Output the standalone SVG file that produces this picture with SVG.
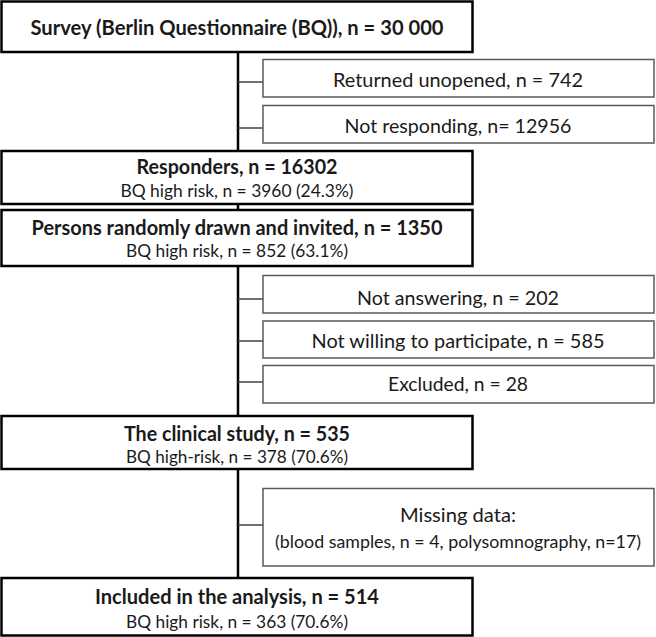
<svg xmlns="http://www.w3.org/2000/svg" width="656" height="637" viewBox="0 0 656 637">
<style>
.main{fill:#fff;stroke:#000;stroke-width:2.5}
.side{fill:#fff;stroke:#5a5a5a;stroke-width:1.5}
.vline{stroke:#000;stroke-width:2.5;fill:none}
.hline{stroke:#444;stroke-width:1.5;fill:none}
text{font-family:Lato,"Liberation Sans",sans-serif;fill:#1a1a1a;text-anchor:middle;dominant-baseline:central}
.b{font-weight:bold;font-size:20.5px}
.r{font-size:17.5px}
.s{font-size:20px}
.r2{font-size:17px}
</style>
<rect width="656" height="637" fill="#fff"/>
<g id="connectors">
<path class="vline" d="M238 52V151M238 204V210M238 266V416M238 469V578"/>
<path class="hline" d="M238 82H263M238 128H263M238 299H263M238 341H263M238 382H263M238 525H263"/>
</g>
<g id="survey">
<rect class="main" x="1.5" y="1.5" width="471" height="50.5"/>
<text class="b" x="237" y="27" textLength="413" lengthAdjust="spacingAndGlyphs">Survey (Berlin Questionnaire (BQ)), n = 30 000</text>
</g>
<g id="returned">
<rect class="side" x="263" y="59.5" width="391" height="37.5"/>
<text class="s" x="458" y="79" textLength="250" lengthAdjust="spacingAndGlyphs">Returned unopened, n = 742</text>
</g>
<g id="notresponding">
<rect class="side" x="263" y="105.5" width="391" height="37.5"/>
<text class="s" x="458" y="125" textLength="227" lengthAdjust="spacingAndGlyphs">Not responding, n= 12956</text>
</g>
<g id="responders">
<rect class="main" x="1.5" y="151" width="471" height="53"/>
<text class="b" x="237" y="166" textLength="201" lengthAdjust="spacingAndGlyphs">Responders, n = 16302</text>
<text class="r" x="237" y="190" textLength="233" lengthAdjust="spacingAndGlyphs">BQ high risk, n = 3960 (24.3%)</text>
</g>
<g id="persons">
<rect class="main" x="1.5" y="210" width="471" height="56"/>
<text class="b" x="237" y="227" textLength="411" lengthAdjust="spacingAndGlyphs">Persons randomly drawn and invited, n = 1350</text>
<text class="r" x="237" y="250" textLength="222" lengthAdjust="spacingAndGlyphs">BQ high risk, n = 852 (63.1%)</text>
</g>
<g id="notanswering">
<rect class="side" x="263" y="275.5" width="391" height="37.5"/>
<text class="s" x="458" y="297" textLength="202" lengthAdjust="spacingAndGlyphs">Not answering, n = 202</text>
</g>
<g id="notwilling">
<rect class="side" x="263" y="321" width="391" height="37"/>
<text class="s" x="458" y="340" textLength="293" lengthAdjust="spacingAndGlyphs">Not willing to participate, n = 585</text>
</g>
<g id="excluded">
<rect class="side" x="263" y="365.5" width="391" height="37.5"/>
<text class="s" x="458" y="383" textLength="140" lengthAdjust="spacingAndGlyphs">Excluded, n = 28</text>
</g>
<g id="clinical">
<rect class="main" x="1.5" y="416" width="471" height="53"/>
<text class="b" x="237" y="433" textLength="226" lengthAdjust="spacingAndGlyphs">The clinical study, n = 535</text>
<text class="r" x="237" y="456" textLength="222" lengthAdjust="spacingAndGlyphs">BQ high-risk, n = 378 (70.6%)</text>
</g>
<g id="missing">
<rect class="side" x="263" y="488.5" width="391" height="77.5"/>
<text class="s" x="458" y="514" textLength="116" lengthAdjust="spacingAndGlyphs">Missing data:</text>
<text class="r2" x="458" y="541" textLength="366" lengthAdjust="spacingAndGlyphs">(blood samples, n = 4, polysomnography, n=17)</text>
</g>
<g id="included">
<rect class="main" x="1.5" y="578" width="471" height="57.5"/>
<text class="b" x="237" y="596" textLength="284" lengthAdjust="spacingAndGlyphs">Included in the analysis, n = 514</text>
<text class="r" x="237" y="621" textLength="222" lengthAdjust="spacingAndGlyphs">BQ high risk, n = 363 (70.6%)</text>
</g>
</svg>
